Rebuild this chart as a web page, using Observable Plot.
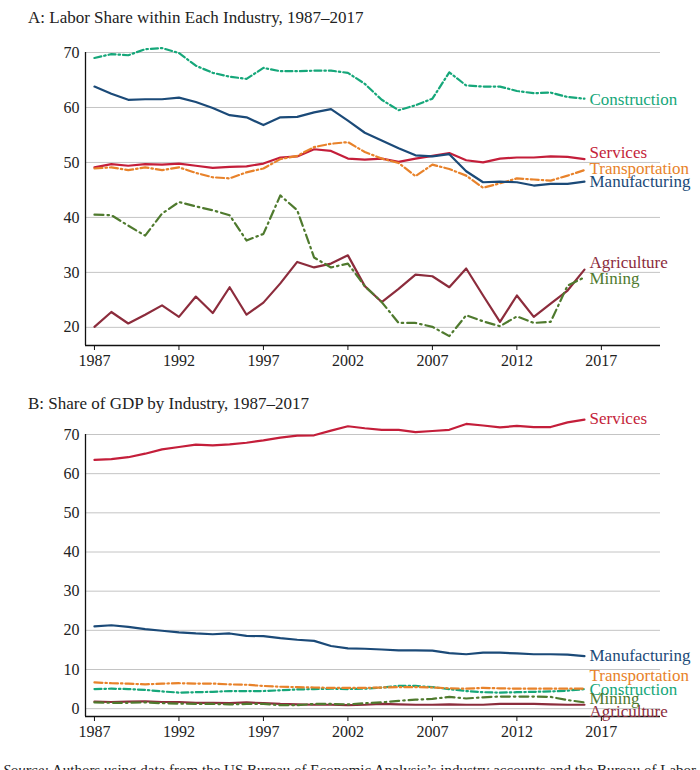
<!DOCTYPE html>
<html><head><meta charset="utf-8">
<script src="https://cdn.jsdelivr.net/npm/d3@7"></script>
<script src="https://cdn.jsdelivr.net/npm/@observablehq/plot@0.6"></script>
<style>
body{margin:0;background:#fff;width:700px;height:770px;overflow:hidden;position:relative;font-family:"Liberation Serif","DejaVu Serif",serif;color:#222}
.title{position:absolute;left:28px;font-size:17px;line-height:20px;white-space:nowrap}
#tA{top:8px}
#tB{top:394px}
#pA{position:absolute;left:0;top:34px}
#pB{position:absolute;left:0;top:412px}
#cap{position:absolute;left:3px;top:761px;font-size:15px;line-height:18px;white-space:nowrap}
</style></head>
<body>
<div class="title" id="tA">A: Labor Share within Each Industry, 1987–2017</div>
<div id="pA"></div>
<div class="title" id="tB">B: Share of GDP by Industry, 1987–2017</div>
<div id="pB"></div>
<div id="cap"><i>Source:</i> Authors using data from the US Bureau of Economic Analysis’s industry accounts and the Bureau of Labor Statistics.</div>
<script>
const years = [1987,1988,1989,1990,1991,1992,1993,1994,1995,1996,1997,1998,1999,2000,2001,2002,2003,2004,2005,2006,2007,2008,2009,2010,2011,2012,2013,2014,2015,2016];
const industries = ["Construction","Services","Transportation","Manufacturing","Agriculture","Mining"];
const xTicks = [1987,1992,1997,2002,2007,2012,2017];
const yTicksA = [20,30,40,50,60,70];
const yTicksB = [0,10,20,30,40,50,60,70];

// Panel A: labor share within each industry (%)
const laborConstruction = [69.0,69.7,69.5,70.6,70.8,69.9,67.6,66.3,65.6,65.2,67.2,66.6,66.6,66.7,66.7,66.3,64.3,61.4,59.5,60.4,61.6,66.4,64.0,63.8,63.8,63.0,62.6,62.7,61.9,61.6];
const laborServices = [49.1,49.7,49.4,49.7,49.6,49.8,49.4,49.0,49.2,49.3,49.8,50.9,51.1,52.4,52.1,50.7,50.5,50.7,50.1,50.7,51.2,51.7,50.4,50.0,50.7,50.9,50.9,51.1,51.0,50.6];
const laborTransportation = [48.9,49.1,48.6,49.1,48.6,49.1,48.1,47.3,47.1,48.2,48.9,50.6,51.2,52.8,53.4,53.7,51.9,50.7,49.9,47.5,49.6,48.8,47.6,45.4,46.2,47.1,46.9,46.7,47.6,48.6];
const laborManufacturing = [63.8,62.5,61.4,61.5,61.5,61.8,61.0,59.9,58.6,58.2,56.8,58.2,58.3,59.1,59.7,57.6,55.4,54.0,52.6,51.3,51.1,51.5,48.4,46.4,46.5,46.4,45.8,46.1,46.1,46.5];
const laborAgriculture = [20.1,22.8,20.7,22.3,24.0,21.9,25.6,22.6,27.3,22.3,24.5,28.0,31.9,30.9,31.6,33.1,27.5,24.6,27.0,29.6,29.3,27.3,30.7,25.8,21.0,25.8,21.9,24.3,26.7,30.5];
const laborMining = [40.5,40.4,38.5,36.7,40.7,42.8,42.0,41.3,40.4,35.8,37.0,44.0,41.3,32.7,30.9,31.6,27.5,24.6,20.8,20.8,20.1,18.4,22.2,21.1,20.2,22.0,20.8,21.0,27.6,29.1];

// Panel B: share of GDP by industry (%)
const gdpConstruction = [5.0,5.1,5.0,4.8,4.4,4.1,4.2,4.3,4.5,4.5,4.5,4.7,4.9,5.0,5.1,5.0,5.1,5.4,5.8,5.8,5.5,5.0,4.5,4.2,4.1,4.2,4.3,4.4,4.6,5.0];
const gdpServices = [63.5,63.7,64.2,65.1,66.2,66.8,67.4,67.2,67.5,67.9,68.5,69.2,69.7,69.8,71.0,72.1,71.6,71.2,71.2,70.6,70.9,71.2,72.7,72.3,71.8,72.2,71.9,71.9,73.1,73.8];
const gdpTransportation = [6.7,6.5,6.4,6.2,6.4,6.5,6.4,6.4,6.2,6.1,5.8,5.6,5.5,5.4,5.3,5.3,5.3,5.4,5.5,5.5,5.4,5.2,5.1,5.3,5.2,5.1,5.1,5.1,5.1,5.1];
const gdpManufacturing = [21.0,21.3,20.9,20.3,19.9,19.5,19.2,19.0,19.2,18.6,18.5,18.0,17.6,17.3,16.0,15.4,15.3,15.1,14.9,14.9,14.8,14.2,13.9,14.3,14.3,14.1,13.9,13.9,13.8,13.4];
const gdpAgriculture = [1.8,1.7,1.8,1.9,1.7,1.7,1.5,1.5,1.4,1.6,1.4,1.2,1.1,1.0,1.0,0.9,1.0,1.2,1.1,1.0,1.0,1.1,1.0,1.0,1.2,1.2,1.2,1.1,1.0,1.0];
const gdpMining = [1.6,1.5,1.5,1.6,1.4,1.3,1.2,1.2,1.1,1.2,1.2,0.9,0.9,1.2,1.2,1.1,1.4,1.6,2.0,2.3,2.5,3.0,2.6,2.9,3.1,3.1,3.1,3.0,2.2,1.6];

// styles
const colors = {Construction:"#16a77a",Services:"#c41e3a",Transportation:"#e8822a",Manufacturing:"#1b4a78",Agriculture:"#8c2c3c",Mining:"#4f7a2e"};
const dashes = {Construction:"7,3,1.5,3",Services:null,Transportation:"8,3,1.5,3",Manufacturing:null,Agriculture:null,Mining:"9,4,1.5,4"};

function table(arrs){
  const out = [];
  industries.forEach((name,k)=>arrs[k].forEach((v,i)=>out.push({industry:name, year:years[i], value:v})));
  return out;
}
const dataA = table([laborConstruction,laborServices,laborTransportation,laborManufacturing,laborAgriculture,laborMining]);
const dataB = table([gdpConstruction,gdpServices,gdpTransportation,gdpManufacturing,gdpAgriculture,gdpMining]);

function panel(data, yDomain, yTicks, height, marginTop, labelDy){
  const marks = [
    Plot.gridY(yTicks, {stroke:"#c4c4c4", strokeOpacity:1, strokeWidth:1}),
    Plot.ruleX([1986.47], {stroke:"#111", strokeWidth:1.3}),
    Plot.ruleY([yDomain[0]], {stroke:"#111", strokeWidth:1.3}),
    Plot.axisY({ticks:yTicks, tickSize:0, tickPadding:6, label:null, fill:"#222", fontSize:16}),
    Plot.axisX({ticks:xTicks, tickSize:5, tickPadding:4, tickFormat:d=>String(d), label:null, fill:"#222", stroke:"#111", fontSize:16})
  ];
  industries.forEach(name=>{
    const rows = data.filter(d=>d.industry===name);
    const opts = {x:"year", y:"value", stroke:colors[name], strokeWidth:2.2};
    if (dashes[name]) opts.strokeDasharray = dashes[name];
    marks.push(Plot.line(rows, opts));
    marks.push(Plot.text(rows.slice(-1), {x:"year", y:"value", text:"industry", fill:colors[name], textAnchor:"start", dx:5, dy:labelDy[name], fontSize:17}));
  });
  return Plot.plot({
    width:700, height, marginLeft:85, marginRight:40, marginTop, marginBottom:30,
    x:{domain:[1986.47,2020.5]},
    y:{domain:yDomain},
    style:{fontFamily:'"Liberation Serif", "DejaVu Serif", serif', fontSize:"16px", background:"transparent", overflow:"visible"},
    marks
  });
}

document.getElementById("pA").append(panel(dataA, [16.7,70], yTicksA, 341, 18,
  {Construction:1, Services:-7, Transportation:-2, Manufacturing:0, Agriculture:-7, Mining:1}));
document.getElementById("pB").append(panel(dataB, [-2,70], yTicksB, 334, 22,
  {Construction:0, Services:-1, Transportation:-13, Manufacturing:-1, Agriculture:7, Mining:-4}));
</script>
</body></html>
